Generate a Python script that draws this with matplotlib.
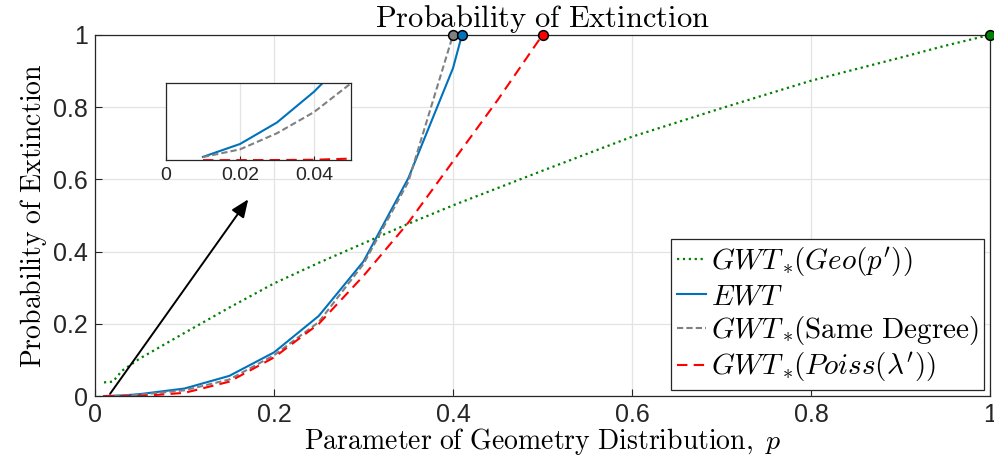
import matplotlib.pyplot as plt

plt.rcParams['mathtext.fontset'] = 'cm'
plt.rcParams['font.family'] = ['Liberation Sans', 'DejaVu Sans']

# data
p_geo = [0.01, 0.02, 0.03, 0.05, 0.1, 0.15, 0.2, 0.25, 0.3, 0.35, 0.4,
         0.5, 0.6, 0.7, 0.8, 0.9, 0.95, 1.0]
ext_geo = [0.038, 0.040, 0.07, 0.104, 0.175, 0.245, 0.312, 0.369, 0.423,
           0.477, 0.528, 0.624, 0.718, 0.797, 0.873, 0.937, 0.97, 1.0]

p_ewt = [0.01, 0.02, 0.03, 0.04, 0.05, 0.1, 0.15, 0.2, 0.25, 0.3, 0.35,
         0.4, 0.41, 1.0]
ext_ewt = [0.00017, 0.00084, 0.00196, 0.00356, 0.0055, 0.021, 0.056,
           0.121, 0.222, 0.373, 0.603, 0.908, 1.0, 1.0]

p_same = [0.01, 0.02, 0.03, 0.04, 0.05, 0.1, 0.15, 0.2, 0.25, 0.3, 0.35,
          0.4, 1.0]
ext_same = [0.00016, 0.00056, 0.0014, 0.0025, 0.004, 0.016, 0.046, 0.113,
            0.205, 0.366, 0.593, 1.0, 1.0]

p_poiss = [0.01, 0.02, 0.03, 0.04, 0.05, 0.1, 0.15, 0.2, 0.25, 0.3, 0.35,
           0.4, 0.45, 0.5, 1.0]
ext_poiss = [0.0, 0.000001, 0.000005, 0.00002, 0.00008, 0.009, 0.04, 0.107,
             0.2, 0.333, 0.48, 0.65, 0.82, 1.0, 1.0]

# first p where each curve hits 1
crit_p = [0.4, 0.41, 0.5, 1.0]
crit_colors = ['#808080', '#0072BD', '#FF0000', '#008000']

xticks = [0, 0.2, 0.4, 0.6, 0.8, 1]
xtick_labels = ['0', '0.2', '0.4', '0.6', '0.8', '1']
yticks = [0, 0.2, 0.4, 0.6, 0.8, 1]
ytick_labels = ['0', '0.2', '0.4', '0.6', '0.8', '1']
inset_xticks = [0, 0.02, 0.04]
inset_xtick_labels = ['0', '0.02', '0.04']

labels = [r'$GWT_*\!(Geo(p^\prime))$', r'$EWT$',
          r'$GWT_*\!(\mathrm{Same\ Degree})$',
          r'$GWT_*\!(Poiss(\lambda^\prime))$']

fig = plt.figure(figsize=(9.94, 4.71), dpi=100)
ax = fig.add_axes([0.0956, 0.159, 0.9004, 0.767])

ax.plot(p_geo, ext_geo, ':', color='#008000', lw=1.6, label=labels[0])
ax.plot(p_ewt, ext_ewt, '-', color='#0072BD', lw=1.5, label=labels[1])
ax.plot(p_same, ext_same, color='#808080', lw=1.5, dashes=(3, 1.5),
        label=labels[2])
ax.plot(p_poiss, ext_poiss, '--', color='#FF0000', lw=1.5, dashes=(5, 3),
        label=labels[3])
for px, c in zip(crit_p, crit_colors):
    ax.plot(px, 1, 'o', ms=7, mfc=c, mec='k', mew=1.1, clip_on=False, zorder=5)

ax.annotate('', xy=(0.173, 0.551), xytext=(0.015, 0.0),
            arrowprops=dict(arrowstyle='-|>,head_length=0.6,head_width=0.25',
                            color='k', lw=1.4, mutation_scale=18))

ax.set_xlim(0, 1)
ax.set_ylim(0, 1)
ax.set_xticks(xticks)
ax.set_xticklabels(xtick_labels)
ax.set_yticks(yticks)
ax.set_yticklabels(ytick_labels)
ax.tick_params(direction='in', labelsize=18, length=5, color='#262626',
               labelcolor='#262626', pad=5)
ax.grid(True, color='#e3e3e3', lw=0.9)
ax.set_axisbelow(True)
for s in ax.spines.values():
    s.set_color('#262626')
    s.set_linewidth(0.9)

ax.set_xlabel(r'$\mathrm{Parameter\ of\ Geometry\ Distribution,}\ p$',
              fontsize=20, labelpad=-1)
ax.set_ylabel(r'$\mathrm{Probability\ of\ Extinction}$', fontsize=20,
              labelpad=3)
ax.set_title(r'$\mathrm{Probability\ of\ Extinction}$', fontsize=22, pad=2)

leg = ax.legend(loc='lower right', fontsize=21, handlelength=1.0,
                handletextpad=0.15, borderaxespad=0.2, borderpad=0.2,
                labelspacing=0.12, fancybox=False, framealpha=1,
                edgecolor='#262626')
leg.get_frame().set_linewidth(0.9)

# zoomed inset
axin = fig.add_axes([0.167, 0.660, 0.186, 0.163])
axin.plot(p_ewt, ext_ewt, '-', color='#0072BD', lw=1.5)
axin.plot(p_same, ext_same, color='#808080', lw=1.5, dashes=(3, 1.5))
axin.plot(p_poiss, ext_poiss, '--', color='#FF0000', lw=1.5, dashes=(5, 3))
axin.set_xlim(0, 0.05)
axin.set_ylim(0, 0.004)
axin.set_xticks(inset_xticks)
axin.set_xticklabels(inset_xtick_labels)
axin.set_yticks([])
axin.tick_params(direction='in', labelsize=14, length=3, color='#262626',
                 labelcolor='#262626', pad=5)
axin.grid(True, axis='x', color='#e3e3e3', lw=0.9)
for s in axin.spines.values():
    s.set_color('#262626')
    s.set_linewidth(0.9)

fig.savefig('out.png', dpi=100)
